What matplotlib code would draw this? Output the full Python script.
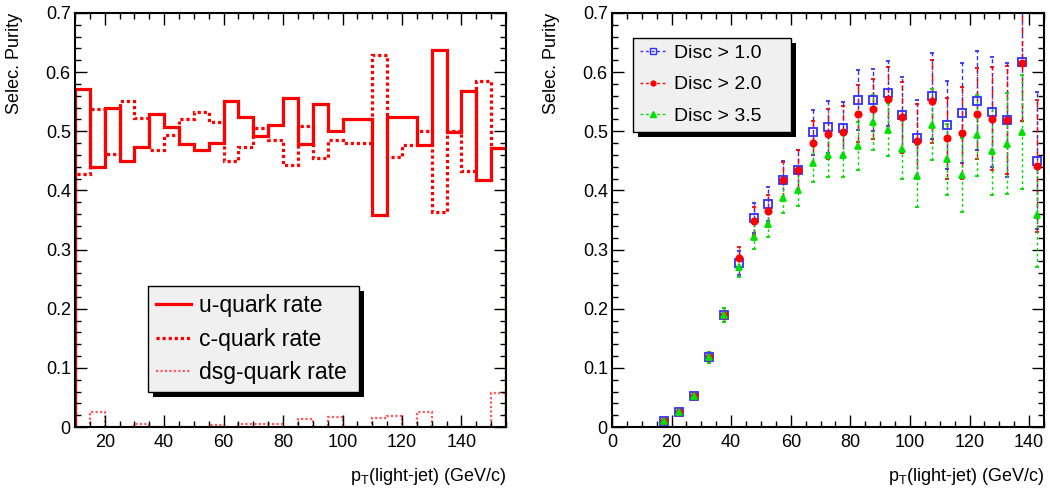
import matplotlib
matplotlib.use('Agg')
import matplotlib.pyplot as plt
import numpy as np
from matplotlib.lines import Line2D
from matplotlib.patches import Rectangle
from matplotlib.ticker import MultipleLocator

plt.rcParams['font.family'] = ['Liberation Sans', 'DejaVu Sans']
plt.rcParams['mathtext.fontset'] = 'custom'
plt.rcParams['mathtext.rm'] = 'Liberation Sans'
plt.rcParams['mathtext.it'] = 'Liberation Sans:italic'

# left panel: rates in 5 GeV bins from 10 to 155
edges = np.arange(10, 156, 5)
u_rate = [0.572, 0.439, 0.539, 0.450, 0.473, 0.530, 0.507, 0.478, 0.468, 0.481,
          0.551, 0.524, 0.492, 0.511, 0.557, 0.478, 0.546, 0.500, 0.520, 0.520,
          0.358, 0.525, 0.524, 0.476, 0.637, 0.499, 0.568, 0.417, 0.471]
c_rate = [0.428, 0.537, 0.462, 0.551, 0.523, 0.468, 0.493, 0.521, 0.532, 0.516,
          0.450, 0.473, 0.505, 0.485, 0.443, 0.509, 0.454, 0.485, 0.480, 0.480,
          0.629, 0.457, 0.476, 0.500, 0.364, 0.500, 0.433, 0.585, 0.471]
dsg_rate = [0, 0.025, 0, 0, 0.005, 0, 0, 0, 0, 0.004,
            0, 0.005, 0.005, 0.005, 0, 0.0135, 0, 0.0175, 0, 0,
            0.015, 0.018, 0, 0.025, 0, 0, 0, 0, 0.058]

# right panel: purity vs pT for three discriminator cuts
pt = np.arange(17.5, 143, 5)
pur_10 = [0.010, 0.025, 0.053, 0.118, 0.190, 0.277, 0.353, 0.377, 0.418, 0.435,
          0.498, 0.507, 0.505, 0.553, 0.553, 0.564, 0.528, 0.489, 0.560, 0.511,
          0.531, 0.552, 0.532, 0.519, 0.617, 0.450]
err_10 = [0.003, 0.004, 0.005, 0.009, 0.012, 0.020, 0.025, 0.028, 0.031, 0.034,
          0.038, 0.044, 0.045, 0.050, 0.053, 0.055, 0.063, 0.064, 0.073, 0.074,
          0.084, 0.083, 0.093, 0.096, 0.100, 0.116]
pur_20 = [0.010, 0.025, 0.053, 0.118, 0.190, 0.285, 0.348, 0.366, 0.418, 0.435,
          0.481, 0.495, 0.499, 0.530, 0.538, 0.555, 0.524, 0.484, 0.551, 0.488,
          0.497, 0.530, 0.521, 0.519, 0.615, 0.441]
err_20 = [0.003, 0.004, 0.005, 0.009, 0.012, 0.020, 0.024, 0.027, 0.030, 0.033,
          0.037, 0.042, 0.043, 0.048, 0.051, 0.053, 0.060, 0.062, 0.070, 0.068,
          0.078, 0.077, 0.087, 0.092, 0.098, 0.112]
pur_35 = [0.010, 0.025, 0.053, 0.118, 0.190, 0.271, 0.322, 0.344, 0.388, 0.401,
          0.447, 0.460, 0.460, 0.475, 0.515, 0.503, 0.470, 0.424, 0.511, 0.453,
          0.426, 0.493, 0.466, 0.479, 0.499, 0.358]
err_35 = [0.003, 0.004, 0.005, 0.009, 0.012, 0.018, 0.021, 0.023, 0.027, 0.028,
          0.032, 0.037, 0.037, 0.041, 0.046, 0.045, 0.050, 0.052, 0.060, 0.060,
          0.062, 0.068, 0.073, 0.085, 0.097, 0.087]

fig = plt.figure(figsize=(10.5, 4.88), dpi=100)
ax1 = fig.add_axes([75/1050, 1-427/488, 431/1050, 414/488])
ax2 = fig.add_axes([612/1050, 1-427/488, 432/1050, 414/488])


def root_style(ax, xmin, xmax):
    ax.set_xlim(xmin, xmax)
    ax.set_ylim(0, 0.7)
    ax.xaxis.set_major_locator(MultipleLocator(20))
    ax.xaxis.set_minor_locator(MultipleLocator(5))
    ax.yaxis.set_major_locator(MultipleLocator(0.1))
    ax.yaxis.set_minor_locator(MultipleLocator(0.02))
    ax.tick_params(which='both', direction='in', top=True, right=True, width=1, labelsize=13)
    ax.tick_params(which='major', length=8.5)
    ax.tick_params(which='minor', length=4.3)
    ax.tick_params(axis='y', pad=3)
    ax.tick_params(axis='x', pad=5)
    ax.yaxis.set_major_formatter(plt.FuncFormatter(lambda v, p: '0' if abs(v) < 1e-9 else '%.1f' % v))
    for s in ax.spines.values():
        s.set_linewidth(1.5)
    ax.set_ylabel('Selec. Purity', loc='top', fontsize=13)
    ax.yaxis.set_label_coords(-0.121, 1.0)
    ax.set_xlabel(r'p$_\mathrm{T}$(light-jet) (GeV/c)', loc='right', fontsize=13)
    ax.xaxis.set_label_coords(1.0, -0.095)


root_style(ax1, 10, 155)
root_style(ax2, 0, 145)

# left: histograms
ax1.stairs(dsg_rate, edges, color='#ff5a5a', lw=1.6, ls=(0, (1, 1)))
ax1.stairs(c_rate, edges, color='red', lw=2.3, ls=(0, (1, 0.9)))
ax1.stairs(u_rate, edges, color='red', lw=2.3)

h1 = [Line2D([], [], color='red', lw=2.3),
      Line2D([], [], color='red', lw=2.3, ls=(0, (1, 0.9))),
      Line2D([], [], color='#ff5a5a', lw=1.6, ls=(0, (1, 1)))]
leg1 = ax1.legend(h1, ['u-quark rate', 'c-quark rate', 'dsg-quark rate'],
                  loc='lower left', bbox_to_anchor=(0.169, 0.0845, 0.49, 0.24),
                  mode='expand', borderaxespad=0,
                  fontsize=16.5, handlelength=1.55, handletextpad=0.35, labelspacing=0.45,
                  borderpad=0.35, fancybox=False, framealpha=1, facecolor='#f0f0f0',
                  edgecolor='black')

# right: purity points with dashed error bars
series = [
    (pur_10, err_10, 's', '#3030ff', 'none', 6, 'Disc > 1.0', (0, (3, 2))),
    (pur_20, err_20, 'o', 'red', 'red', 4.5, 'Disc > 2.0', (0, (4, 2, 1, 2))),
    (pur_35, err_35, '^', '#00e000', '#00e000', 5, 'Disc > 3.5', (0, (2, 2))),
]
h2 = []
for y, e, m, col, fc, ms, lab, dash in series:
    cont = ax2.errorbar(pt, y, yerr=e, fmt=m, color=col, mfc=fc, mec=col, ms=ms, mew=1.3,
                        ecolor=col, elinewidth=1, capsize=1.5, capthick=1)
    for lc in cont[2]:
        lc.set_linestyle(dash)
    h2.append(Line2D([], [], color=col, lw=1, ls=(0, (2, 2)), marker=m, mfc=fc, mec=col,
                     ms=ms - 1, mew=1))
leg2 = ax2.legend(h2, [s[6] for s in series], loc='upper left',
                  bbox_to_anchor=(0.049, 0.70, 0.366, 0.24), mode='expand',
                  borderaxespad=0,
                  fontsize=14, handlelength=1.35, handletextpad=0.4, labelspacing=0.7,
                  borderpad=0.35, fancybox=False, framealpha=1, facecolor='#f0f0f0',
                  edgecolor='black')

# ROOT-like solid black drop shadow behind the legends
fig.canvas.draw()
for ax, leg in [(ax1, leg1), (ax2, leg2)]:
    leg.get_frame().set_linewidth(1)
    leg.set_zorder(6)
    bb = leg.get_frame().get_window_extent()
    ax.add_patch(Rectangle((bb.x0 + 5, bb.y0 - 5), bb.width, bb.height, transform=None,
                           fc='black', ec='none', zorder=5.5, clip_on=False))

fig.savefig('out.png', dpi=100)
